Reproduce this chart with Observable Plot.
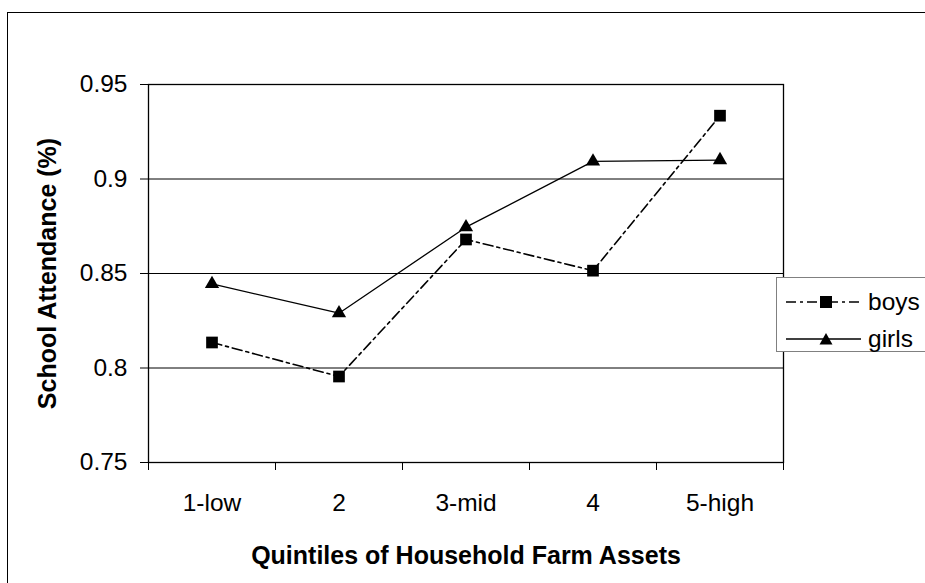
<!DOCTYPE html>
<html>
<head>
<meta charset="utf-8">
<script src="https://cdn.jsdelivr.net/npm/d3@7"></script>
<script src="https://cdn.jsdelivr.net/npm/@observablehq/plot@0.6"></script>
<style>
  html, body { margin: 0; padding: 0; background: #fff; }
  body { width: 925px; height: 583px; overflow: hidden; position: relative; font-family: "Liberation Sans", Arial, sans-serif; }
  #chart { position: absolute; left: 0; top: 0; }
  #outer { position: absolute; left: 7px; top: 12px; width: 1000px; height: 1000px; border-left: 1.5px solid #000; border-top: 1.5px solid #000; pointer-events: none; }
  #legend { position: absolute; left: 776px; top: 277px; width: 170px; height: 75px; border: 1px solid #808080; background: #fff; box-sizing: border-box; }
  .row { position: absolute; left: 0; height: 30px; display: flex; align-items: center; }
  .row svg { display: block; }
  .row span { font-size: 24.5px; color: #000; margin-left: 5px; line-height: 30px; }
  g[aria-label="y-axis label"], g[aria-label="x-axis label"] { font-weight: bold; font-size: 25px; }
</style>
</head>
<body>
<div id="chart"></div>
<div id="outer"></div>
<div id="legend"></div>
<script>
const categories = ["1-low", "2", "3-mid", "4", "5-high"];
const boys = [0.8135, 0.7955, 0.868, 0.8515, 0.9335];
const girls = [0.8445, 0.829, 0.8745, 0.9093, 0.910];
const yTicks = [0.75, 0.8, 0.85, 0.9, 0.95];
const seriesNames = ["boys", "girls"];

const xPos = categories.map((_, i) => i + 0.5);
const boundaries = d3.range(categories.length + 1);
const boysData = categories.map((c, i) => ({cat: c, pos: xPos[i], value: boys[i]}));
const girlsData = categories.map((c, i) => ({cat: c, pos: xPos[i], value: girls[i]}));

const boysDash = "10,4,3,4";

const chart = Plot.plot({
  width: 925,
  height: 583,
  marginLeft: 148,
  marginRight: 142,
  marginTop: 84,
  marginBottom: 121,
  style: {fontFamily: "'Liberation Sans', Arial, sans-serif", fontSize: "24.5px", color: "#000", background: "transparent", overflow: "visible"},
  x: {domain: [0, categories.length]},
  y: {domain: [yTicks[0], yTicks[yTicks.length - 1]]},
  marks: [
    Plot.ruleY(yTicks.slice(1, -1), {stroke: "#000", strokeWidth: 1}),
    Plot.frame({stroke: "#000", strokeWidth: 1.3}),
    Plot.axisY({ticks: yTicks, tickSize: 8, tickPadding: 13, tickFormat: d => String(d), label: "School Attendance (%)", labelAnchor: "center", labelOffset: 110, labelArrow: "none", stroke: "#000"}),
    Plot.axisX({ticks: boundaries, tickSize: 8, tickFormat: () => "", label: null, stroke: "#000"}),
    Plot.axisX({ticks: xPos, tickSize: 0, tickPadding: 31, tickFormat: d => categories[Math.floor(d)], label: "Quintiles of Household Farm Assets", labelAnchor: "center", labelOffset: 101, labelArrow: "none"}),
    Plot.line(boysData, {x: "pos", y: "value", stroke: "#000", strokeWidth: 1.6, strokeDasharray: boysDash}),
    Plot.line(girlsData, {x: "pos", y: "value", stroke: "#000", strokeWidth: 1.3}),
    Plot.dot(boysData, {x: "pos", y: "value", symbol: "square", r: 6.6, fill: "#000", stroke: "none"}),
    Plot.dot(girlsData, {x: "pos", y: "value", symbol: "triangle", r: 5.3, fill: "#000", stroke: "none"})
  ]
});
document.getElementById("chart").appendChild(chart);

// Legend
const legend = document.getElementById("legend");
const rowCenters = [24, 61];
seriesNames.forEach((name, i) => {
  const row = document.createElement("div");
  row.className = "row";
  row.style.top = (rowCenters[i] - 15) + "px";
  const ns = "http://www.w3.org/2000/svg";
  const svg = document.createElementNS(ns, "svg");
  svg.setAttribute("width", 86);
  svg.setAttribute("height", 30);
  const line = document.createElementNS(ns, "line");
  line.setAttribute("x1", 9); line.setAttribute("x2", 84);
  line.setAttribute("y1", 15); line.setAttribute("y2", 15);
  line.setAttribute("stroke", "#000");
  line.setAttribute("stroke-width", i === 0 ? 1.6 : 1.3);
  if (i === 0) line.setAttribute("stroke-dasharray", boysDash);
  svg.appendChild(line);
  if (i === 0) {
    const r = document.createElementNS(ns, "rect");
    r.setAttribute("x", 49 - 6); r.setAttribute("y", 15 - 6);
    r.setAttribute("width", 12); r.setAttribute("height", 12);
    r.setAttribute("fill", "#000");
    svg.appendChild(r);
  } else {
    const p = document.createElementNS(ns, "path");
    p.setAttribute("d", "M49,9 L55.5,20.5 L42.5,20.5 Z");
    p.setAttribute("fill", "#000");
    svg.appendChild(p);
  }
  row.appendChild(svg);
  const t = document.createElement("span");
  t.textContent = name;
  row.appendChild(t);
  legend.appendChild(row);
});
</script>
</body>
</html>
